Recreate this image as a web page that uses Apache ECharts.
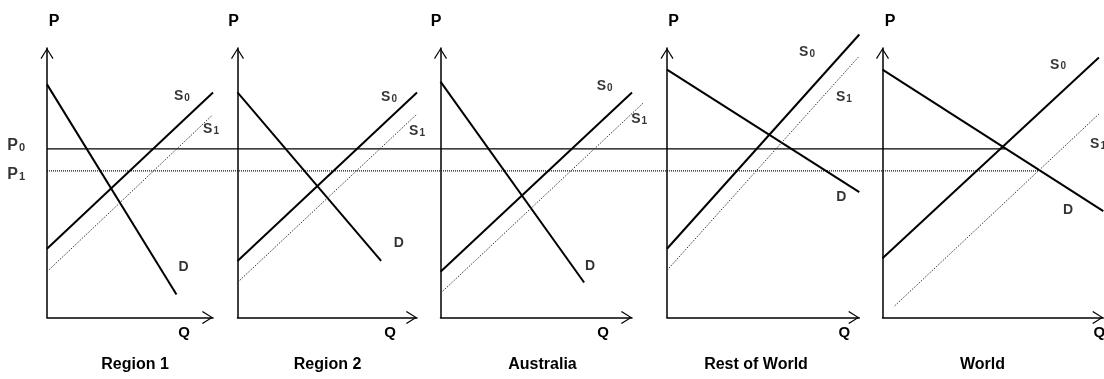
<!DOCTYPE html>
<html><head><meta charset="utf-8">
<script src="https://cdn.jsdelivr.net/npm/echarts@6/dist/echarts.min.js"></script>
<style>html,body{margin:0;padding:0;background:#fff}#c{width:1104px;height:379px}</style>
</head><body><div id="c"></div>
<script>
// ---------- DATA (P = price, Q = quantity, each panel uses its own 0..100 scales) ----------
const panelNames = ['Region 1', 'Region 2', 'Australia', 'Rest of World', 'World'];
// Demand curve D : two end points [Q, P] per panel
const demandD = [
  [[0, 86.5], [78, 8.5]],
  [[0, 83.5], [80, 21]],
  [[0, 87.5], [75, 13]],
  [[0, 92], [100, 46.5]],
  [[0, 92], [100, 39.5]]
];
// Original supply S0
const supplyS0 = [
  [[0, 25.5], [100, 83.5]],
  [[0, 21], [100, 83.5]],
  [[0, 17], [100, 83.5]],
  [[0, 25.5], [100, 105]],
  [[0, 22], [98, 96.5]]
];
// Shifted supply S1
const supplyS1 = [
  [[0, 17], [99.5, 75]],
  [[0, 13], [100, 75.5]],
  [[0, 9], [106, 79.7]],
  [[0, 17.5], [100, 97]],
  [[5.5, 4.3], [98, 75.5]]
];
// World prices and where their lines end (in World-panel Q units)
const priceP0 = 62.6;
const priceP1 = 54.4;
const priceLineEndQ = [55.5, 70.4];

// ---------- LAYOUT (positions / styles) ----------
const LAYOUT = {
  top: 48, bottom: 61.5, height: 269.5, chartW: 1104, ext: 15,
  panels: [
    {left: 47, width: 166, pDx: 7, qDx: -29, titleX: 135, lab: {S0: [81.3, 82.2], S1: [98.8, 69.9], D: [82.2, 18.7]}},
    {left: 237.5, width: 179.5, pDx: -4, qDx: -27, titleX: 327.5, lab: {S0: [84.4, 81.8], S1: [100, 69.2], D: [89.8, 27.5]}},
    {left: 440.5, width: 191.5, pDx: -4.5, qDx: -29, titleX: 542.5, lab: {S0: [85.7, 85.9], S1: [103.7, 73.7], D: [78.1, 19.2]}},
    {left: 667, width: 192.3, pDx: 6.5, qDx: -15, titleX: 756, lab: {S0: [72.8, 98.3], S1: [92, 81.6], D: [90.6, 44.7]}},
    {left: 882.5, width: 220.8, pDx: 7.5, qDx: -4, titleX: 982.5, lab: {S0: [79.5, 93.8], S1: [97.6, 64.4], D: [84, 39.9]}}
  ]
};
const FONT = '"Liberation Sans", Arial, Helvetica, sans-serif';
const arrowPath = 'path://M6.5 0 L13 10.2 L12 11 L6.5 2 L1 11 L0 10.2 Z';

const rich = {
  m: {fontFamily: FONT, fontWeight: 'bold', fontSize: 14, color: '#000', verticalAlign: 'bottom'},
  s: {fontFamily: FONT, fontWeight: 'bold', fontSize: 10, color: '#000', verticalAlign: 'bottom', padding: [0, 0, 0, 1]},
  pm: {fontFamily: FONT, fontWeight: 'bold', fontSize: 16, color: '#000', verticalAlign: 'bottom'},
  ps: {fontFamily: FONT, fontWeight: 'bold', fontSize: 11, color: '#000', verticalAlign: 'bottom', padding: [0, 0, 0, 1]}
};

const grids = [], xAxes = [], yAxes = [], series = [], graphics = [];
const hiddenAxis = {axisLine: {show: false}, axisTick: {show: false}, axisLabel: {show: false}, splitLine: {show: false}};
const n = LAYOUT.panels.length;

// visible axes (grid 0..4)
LAYOUT.panels.forEach((p, i) => {
  grids.push({left: p.left, width: p.width, top: LAYOUT.top, bottom: LAYOUT.bottom, containLabel: false, outerBoundsMode: 'none'});
  const axisLine = {show: true, onZero: false, symbol: ['none', arrowPath], symbolSize: [13, 11], symbolOffset: [0, -5.5],
    lineStyle: {color: '#000', width: 1.5}};
  xAxes.push({type: 'value', gridIndex: i, min: 0, max: 100, axisLine: axisLine,
    axisTick: {show: false}, axisLabel: {show: false}, splitLine: {show: false},
    name: 'Q', nameLocation: 'end', nameGap: p.qDx,
    nameTextStyle: {fontFamily: FONT, fontWeight: 'bold', fontSize: 15, color: '#000', align: 'center', verticalAlign: 'top', padding: [8, 0, 0, 0]}});
  yAxes.push({type: 'value', gridIndex: i, min: 0, max: 100, axisLine: axisLine,
    axisTick: {show: false}, axisLabel: {show: false}, splitLine: {show: false},
    name: 'P', nameLocation: 'end', nameGap: 18,
    nameTextStyle: {fontFamily: FONT, fontWeight: 'bold', fontSize: 16, color: '#000',
      padding: p.pDx >= 0 ? [0, 0, 0, 2 * p.pDx] : [0, -2 * p.pDx, 0, 0]}});
  graphics.push({type: 'text', x: p.titleX, y: 365, silent: true,
    style: {text: panelNames[i], align: 'center', verticalAlign: 'middle', fontFamily: FONT, fontWeight: 'bold', fontSize: 16, fill: '#000'}});
});

// extended invisible grids (same scale, wider range) so curves may run past the axis ends
const e = LAYOUT.ext;
LAYOUT.panels.forEach((p, i) => {
  const gi = n + i;
  const pxQ = p.width / 100, pxP = LAYOUT.height / 100;
  grids.push({left: p.left - e * pxQ, width: p.width + 2 * e * pxQ,
    top: LAYOUT.top - e * pxP, height: LAYOUT.height + 2 * e * pxP, containLabel: false, outerBoundsMode: 'none'});
  xAxes.push(Object.assign({type: 'value', gridIndex: gi, min: -e, max: 100 + e}, hiddenAxis));
  yAxes.push(Object.assign({type: 'value', gridIndex: gi, min: -e, max: 100 + e}, hiddenAxis));
  const common = {type: 'line', xAxisIndex: gi, yAxisIndex: gi, symbol: 'none', clip: false, silent: true, z: 3};
  series.push(Object.assign({}, common, {name: 'D' + i, data: demandD[i], lineStyle: {color: '#000', width: 2}}));
  series.push(Object.assign({}, common, {name: 'S0' + i, data: supplyS0[i], lineStyle: {color: '#000', width: 2}}));
  series.push(Object.assign({}, common, {name: 'S1' + i, data: supplyS1[i], lineStyle: {color: '#333', width: 1, type: [1.5, 1.5]}}));
  series.push({type: 'scatter', xAxisIndex: gi, yAxisIndex: gi, symbol: 'circle', symbolSize: 1, clip: false, silent: true,
    itemStyle: {color: 'rgba(0,0,0,0)'},
    label: {show: true, position: 'inside', rich: rich, formatter: prm => prm.data.t},
    data: [
      {value: p.lab.S0, t: '{m|S}{s|0}'},
      {value: p.lab.S1, t: '{m|S}{s|1}'},
      {value: p.lab.D, t: '{m|D}'}
    ]});
});

// Price lines P0 / P1: World panel's Q scale, extended left to Region 1's price axis
const W = LAYOUT.panels[n - 1], R1 = LAYOUT.panels[0];
const startQ = (R1.left - W.left) / W.width * 100;
const gP = 2 * n;
grids.push({left: R1.left, right: LAYOUT.chartW - (W.left + W.width), top: LAYOUT.top, bottom: LAYOUT.bottom, containLabel: false, outerBoundsMode: 'none'});
xAxes.push(Object.assign({type: 'value', gridIndex: gP, min: startQ, max: 100}, hiddenAxis));
yAxes.push(Object.assign({type: 'value', gridIndex: gP, min: 0, max: 100}, hiddenAxis));
series.push({type: 'line', xAxisIndex: gP, yAxisIndex: gP, symbol: 'none', clip: false, silent: true, z: 2,
  data: [[startQ, priceP0], [priceLineEndQ[0], priceP0]], lineStyle: {color: '#000', width: 1.2}});
series.push({type: 'line', xAxisIndex: gP, yAxisIndex: gP, symbol: 'none', clip: false, silent: true, z: 2,
  data: [[startQ, priceP1], [priceLineEndQ[1], priceP1]], lineStyle: {color: '#111', width: 1.2, type: [1, 1]}});
series.push({type: 'scatter', xAxisIndex: gP, yAxisIndex: gP, symbol: 'circle', symbolSize: 1, clip: false, silent: true,
  itemStyle: {color: 'rgba(0,0,0,0)'},
  label: {show: true, position: 'left', distance: 21.5, rich: rich, formatter: prm => prm.data.t},
  data: [
    {value: [startQ, priceP0], t: '{pm|P}{ps|0}', label: {offset: [0, -3.4]}},
    {value: [startQ, priceP1], t: '{pm|P}{ps|1}', label: {offset: [0, 3.7]}}
  ]});

const chart = echarts.init(document.getElementById('c'), null, {renderer: 'canvas'});
chart.setOption({
  animation: false,
  backgroundColor: '#fff',
  grid: grids, xAxis: xAxes, yAxis: yAxes, series: series, graphic: graphics
});
</script>
</body></html>
